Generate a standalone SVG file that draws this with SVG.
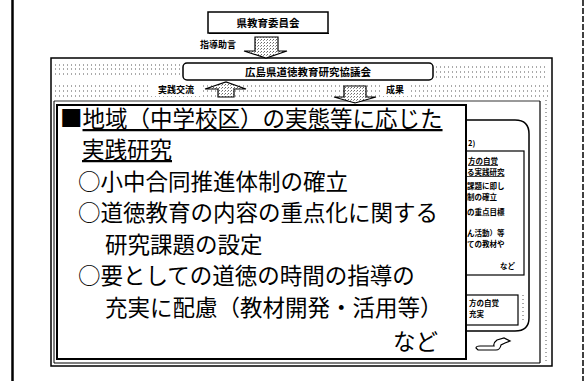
<svg xmlns="http://www.w3.org/2000/svg" width="585" height="381" viewBox="0 0 585 381">
<defs>
<pattern id="stip" width="3" height="3" patternUnits="userSpaceOnUse">
<rect width="3" height="3" fill="#fff"/>
<rect x="0" y="0" width="1" height="1" fill="#666"/>
<rect x="2" y="1" width="1" height="1" fill="#999"/>
</pattern>
<style>
.jp{font-family:"Noto Sans CJK JP","Noto Sans",sans-serif;fill:#000}
.big{font-size:22.5px}
.sm{font-size:10.5px;font-weight:bold}
.xs{font-size:9px;font-weight:bold}
.tn{font-size:7.5px;font-weight:bold}
.ln{fill:none;stroke:#000}
.dot{fill:none;stroke:#555;stroke-width:1;stroke-dasharray:1 3}
.arr{fill:url(#stip);stroke:#000;stroke-width:1.2}
</style>
</defs>
<rect width="585" height="381" fill="#fff"/>
<line class="ln" x1="12.5" y1="0" x2="12.5" y2="381" stroke-width="2.5"/>
<line class="ln" x1="583" y1="0" x2="583" y2="381" stroke-width="1.5" stroke-dasharray="6 2"/>

<g id="kyoiku-iinkai">
<rect class="ln" x="208" y="12" width="120" height="21" stroke-width="1.5"/>
<line class="ln" x1="209" y1="33.5" x2="329" y2="33.5" stroke-width="1"/>
<text class="jp sm" x="268" y="27" text-anchor="middle">県教育委員会</text>
</g>

<g id="kyogikai">
<rect class="ln" x="51" y="58" width="501" height="308" stroke-width="1.5"/>
<line class="dot" x1="55" y1="65" x2="180" y2="65"/>
<line class="dot" x1="55" y1="69" x2="180" y2="69"/>
<line class="dot" x1="55" y1="74" x2="180" y2="74"/>
<line class="dot" x1="436" y1="67" x2="548" y2="67"/>
<line class="dot" x1="436" y1="72" x2="548" y2="72"/>
<line class="dot" x1="436" y1="77" x2="548" y2="77"/>
<line class="dot" x1="55" y1="86" x2="548" y2="86"/>
<line class="dot" x1="55" y1="91" x2="548" y2="91"/>
<line class="dot" x1="55" y1="96" x2="548" y2="96"/>
<rect class="ln" x="183" y="63" width="250" height="17" rx="4" stroke-width="1.5" fill="#fff"/>
<text class="jp sm" x="308" y="76" text-anchor="middle">広島県道徳教育研究協議会</text>
<rect x="151" y="84" width="52" height="12" fill="#fff"/>
<rect x="383" y="84" width="25" height="12" fill="#fff"/>
<line class="ln" x1="54" y1="101" x2="54" y2="363" stroke-width="1"/>
<line class="ln" x1="54" y1="363" x2="540" y2="363" stroke-width="1.2"/>
<line class="ln" x1="540" y1="101" x2="540" y2="363" stroke-width="1.2"/>
<line class="ln" x1="54" y1="101" x2="540" y2="101" stroke-width="0.8"/>
<line class="dot" x1="546" y1="100" x2="546" y2="363"/>
</g>

<g id="connectors">
<text class="jp xs" x="200" y="48">指導助言</text>
<path class="arr" d="M255,37 H278 V51 H287 L266,58 L244,51 H255 Z"/>
<path class="arr" d="M218,97 V89 H205 L226,82 L246,89 H234 V97 Z"/>
<text class="jp xs" x="158" y="93">実践交流</text>
<path class="arr" d="M344,86 H366 V97 H376 L355,103 L334,97 H344 Z"/>
<text class="jp xs" x="386" y="93">成果</text>
<path class="ln" d="M478,350 H496 Q500,350 501,345 L505,343 L510,341 L504,338 L497,340 Q493,343 494,346 H480 Q476,346 476,348 Z" stroke-width="1.2"/>
</g>

<g id="right-box">
<path class="ln" d="M440,120 H515 Q529,120 529,134 V318 Q529,331 515,331 H440" stroke-width="1.5"/>
<text class="jp tn" x="468" y="146">2)</text>
<rect class="ln" x="440" y="151" width="84" height="124" stroke-width="1.2"/>
<text class="jp tn" x="468" y="164" text-decoration="underline">方の自覚</text>
<text class="jp tn" x="467" y="175" text-decoration="underline">る実践研究</text>
<text class="jp tn" x="467" y="189">課題に即し</text>
<text class="jp tn" x="467" y="200">制の確立</text>
<text class="jp tn" x="467" y="215">の重点目標</text>
<text class="jp tn" x="467" y="236">ん活動）等</text>
<text class="jp tn" x="467" y="247">ての教材や</text>
<text class="jp tn" x="500" y="269">など</text>
<rect class="ln" x="440" y="295" width="78" height="30" stroke-width="1.2"/>
<text class="jp tn" x="469" y="306">方の自覚</text>
<text class="jp tn" x="469" y="317">充実</text>
<line class="dot" x1="523" y1="295" x2="523" y2="322" stroke-width="2.5"/>
</g>

<g id="main-box">
<rect x="57" y="105" width="409" height="254" fill="#fff" stroke="#000" stroke-width="2"/>
<text class="jp big" x="60" y="127">■<tspan text-decoration="underline">地域（中学校区）の実態等に応じた</tspan></text>
<text class="jp big" x="82" y="158" text-decoration="underline">実践研究</text>
<text class="jp big" x="78" y="190">○小中合同推進体制の確立</text>
<text class="jp big" x="78" y="221">○道徳教育の内容の重点化に関する</text>
<text class="jp big" x="105" y="253">研究課題の設定</text>
<text class="jp big" x="78" y="284">○要としての道徳の時間の指導の</text>
<text class="jp big" x="105" y="316">充実に配慮（教材開発・活用等）</text>
<text class="jp big" x="393" y="350">など</text>
</g>
</svg>
